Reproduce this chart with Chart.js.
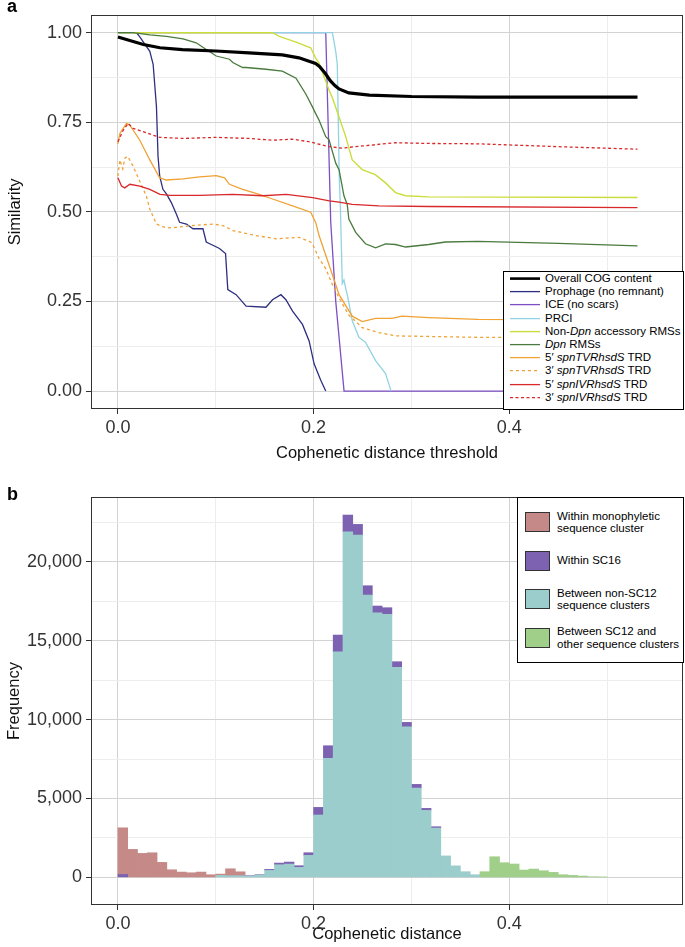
<!DOCTYPE html>
<html><head><meta charset="utf-8">
<script src="https://cdn.jsdelivr.net/npm/chart.js@4/dist/chart.umd.min.js"></script>
<style>
body{margin:0;background:#fff;width:685px;height:947px;position:relative;overflow:hidden;font-family:"Liberation Sans",Arial,sans-serif;color:#000;}
canvas{position:absolute;left:0;}
#ca{top:0;}
#cb{top:470px;}
.plabel{position:absolute;font-weight:bold;font-size:18px;line-height:18px;}
.legend{position:absolute;border:1px solid #000;background:#fff;box-sizing:border-box;}
.la-row{position:absolute;left:0;height:13.2px;font-size:11.5px;line-height:13.2px;white-space:nowrap;}
.la-row svg{position:absolute;left:6px;top:0;}
.la-row span{position:absolute;left:41px;top:0;}
.lb-sw{position:absolute;left:7px;width:25px;height:20px;box-sizing:border-box;border:1px solid #333;}
.lb-tx{position:absolute;left:39px;font-size:11.5px;line-height:12.2px;white-space:nowrap;}
</style></head>
<body>
<canvas id="ca" width="685" height="470"></canvas>
<canvas id="cb" width="685" height="477"></canvas>
<div class="plabel" style="left:7px;top:-3px;">a</div>
<div class="plabel" style="left:7px;top:485px;">b</div>
<div class="legend" id="legA" style="left:503px;top:271px;width:181px;height:139px;"></div>
<div class="legend" id="legB" style="left:517px;top:497px;width:167px;height:166px;"></div>
<script>
// ---------- Panel a data ----------
const cogX = [0, 0.026, 0.043, 0.066, 0.1, 0.134, 0.168, 0.185, 0.202, 0.206, 0.212, 0.217, 0.222, 0.226, 0.236, 0.257, 0.30, 0.368, 0.531];
const cogY = [0.988, 0.967, 0.958, 0.953, 0.949, 0.944, 0.938, 0.930, 0.914, 0.906, 0.886, 0.866, 0.852, 0.843, 0.832, 0.826, 0.822, 0.820, 0.820];

const prophageX = [0, 0.019, 0.022, 0.0326, 0.036, 0.0394, 0.041, 0.0427, 0.046, 0.0496, 0.0546, 0.0597, 0.063, 0.070, 0.0767, 0.0869, 0.0903, 0.097, 0.1038, 0.110, 0.1123, 0.1208, 0.131, 0.1513, 0.158, 0.1666, 0.1717, 0.1785, 0.1886, 0.1954, 0.2005, 0.2073, 0.2124];
const prophageY = [1, 1, 0.99, 0.948, 0.912, 0.793, 0.655, 0.600, 0.563, 0.550, 0.526, 0.494, 0.471, 0.466, 0.453, 0.453, 0.416, 0.407, 0.398, 0.384, 0.283, 0.269, 0.237, 0.234, 0.255, 0.269, 0.255, 0.223, 0.186, 0.140, 0.076, 0.030, 0];

const iceX = [0, 0.2124, 0.2175, 0.2226, 0.2311, 0.531];
const iceY = [1, 1, 0.471, 0.251, 0, 0];

const prciX = [0, 0.2192, 0.2226, 0.2242, 0.2262, 0.2275, 0.2293, 0.2310, 0.2328, 0.2344, 0.2395, 0.2463, 0.2531, 0.2633, 0.2735, 0.2792];
const prciY = [1, 1, 0.948, 0.912, 0.60, 0.50, 0.30, 0.31, 0.287, 0.269, 0.196, 0.150, 0.136, 0.085, 0.049, 0];

const nonDpnX = [0, 0.158, 0.165, 0.182, 0.197, 0.202, 0.2056, 0.216, 0.219, 0.226, 0.2328, 0.2395, 0.2497, 0.263, 0.2735, 0.2837, 0.294, 0.3176, 0.531];
const nonDpnY = [1, 1, 0.99, 0.974, 0.958, 0.930, 0.915, 0.838, 0.820, 0.765, 0.710, 0.645, 0.618, 0.604, 0.581, 0.554, 0.545, 0.542, 0.540];

const dpnX = [0, 0.0156, 0.0326, 0.0496, 0.0665, 0.080, 0.0903, 0.1005, 0.114, 0.1174, 0.1275, 0.131, 0.1513, 0.168, 0.182, 0.192, 0.1988, 0.202, 0.2056, 0.2124, 0.2158, 0.2226, 0.226, 0.231, 0.2344, 0.236, 0.243, 0.253, 0.2633, 0.2735, 0.2837, 0.294, 0.3176, 0.3346, 0.368, 0.45, 0.531];
const dpnY = [1, 1, 0.994, 0.99, 0.983, 0.972, 0.953, 0.935, 0.926, 0.917, 0.903, 0.903, 0.898, 0.893, 0.873, 0.829, 0.793, 0.775, 0.756, 0.710, 0.701, 0.636, 0.618, 0.545, 0.52, 0.480, 0.443, 0.411, 0.400, 0.411, 0.409, 0.402, 0.409, 0.416, 0.418, 0.412, 0.405];

const tvr5X = [0, 0.002, 0.0088, 0.0122, 0.0224, 0.0326, 0.0427, 0.0496, 0.0665, 0.0835, 0.1005, 0.109, 0.114, 0.1275, 0.1445, 0.158, 0.1785, 0.197, 0.2022, 0.2056, 0.2124, 0.2158, 0.2226, 0.226, 0.2395, 0.2497, 0.2633, 0.2802, 0.2904, 0.3176, 0.368, 0.531];
const tvr5Y = [0.69, 0.719, 0.747, 0.742, 0.70, 0.645, 0.595, 0.589, 0.592, 0.598, 0.601, 0.595, 0.577, 0.563, 0.549, 0.536, 0.517, 0.499, 0.470, 0.434, 0.379, 0.352, 0.297, 0.269, 0.209, 0.194, 0.203, 0.203, 0.209, 0.205, 0.200, 0.198];

const tvr3X = [0, 0.002, 0.005, 0.0071, 0.010, 0.0156, 0.0224, 0.029, 0.0326, 0.0394, 0.0496, 0.0597, 0.0767, 0.097, 0.1072, 0.114, 0.1174, 0.141, 0.1615, 0.185, 0.197, 0.1988, 0.2056, 0.2124, 0.2192, 0.226, 0.236, 0.2497, 0.2667, 0.2837, 0.368, 0.531];
const tvr3Y = [0.60, 0.645, 0.62, 0.65, 0.655, 0.627, 0.585, 0.545, 0.508, 0.466, 0.455, 0.457, 0.462, 0.466, 0.462, 0.453, 0.448, 0.434, 0.425, 0.429, 0.416, 0.411, 0.370, 0.342, 0.297, 0.260, 0.212, 0.177, 0.163, 0.154, 0.150, 0.149];

const ivr5X = [0, 0.0037, 0.007, 0.0122, 0.0224, 0.0326, 0.043, 0.053, 0.0835, 0.117, 0.148, 0.172, 0.199, 0.216, 0.226, 0.2395, 0.2667, 0.3176, 0.531];
const ivr5Y = [0.595, 0.572, 0.567, 0.577, 0.572, 0.563, 0.549, 0.546, 0.546, 0.549, 0.545, 0.549, 0.540, 0.531, 0.527, 0.521, 0.517, 0.515, 0.512];

const ivr3X = [0, 0.0054, 0.0105, 0.0156, 0.0258, 0.036, 0.0427, 0.0665, 0.1005, 0.134, 0.158, 0.178, 0.195, 0.216, 0.229, 0.2497, 0.2837, 0.3176, 0.368, 0.45, 0.531];
const ivr3Y = [0.696, 0.728, 0.747, 0.733, 0.724, 0.714, 0.708, 0.705, 0.708, 0.705, 0.700, 0.703, 0.696, 0.682, 0.678, 0.684, 0.693, 0.691, 0.690, 0.682, 0.675];

const seriesNames = ['Overall COG content', 'Prophage (no remnant)', 'ICE (no scars)', 'PRCI', 'Non-Dpn accessory RMSs', 'Dpn RMSs', '5\u2032 spnTVRhsdS TRD', '3\u2032 spnTVRhsdS TRD', '5\u2032 spnIVRhsdS TRD', '3\u2032 spnIVRhsdS TRD'];
const italicWords = ['Dpn', 'spnTVRhsdS', 'spnIVRhsdS'];

// tick positions (major ticks get labels, the rest are minor grid lines)
const distTicks = [0, 0.1, 0.2, 0.3, 0.4, 0.5];
const distLabelTicks = [0, 0.2, 0.4];
const simTicks = [0, 0.125, 0.25, 0.375, 0.5, 0.625, 0.75, 0.875, 1];
const simLabelTicks = [0, 0.25, 0.5, 0.75, 1];
const freqTicks = [0, 2500, 5000, 7500, 10000, 12500, 15000, 17500, 20000, 22500];
const freqLabelTicks = [0, 5000, 10000, 15000, 20000];

// ---------- Panel b data ----------
const binStart = [0.00,0.01,0.02,0.03,0.04,0.05,0.06,0.07,0.08,0.09,0.10,0.11,0.12,0.13,0.14,0.15,0.16,0.17,0.18,0.19,0.20,0.21,0.22,0.23,0.24,0.25,0.26,0.27,0.28,0.29,0.30,0.31,0.32,0.33,0.34,0.35,0.36,0.37,0.38,0.39,0.40,0.41,0.42,0.43,0.44,0.45,0.46,0.47,0.48,0.49];
const binWidth = 0.01;
const withinMono = [2950,1774,1520,1560,950,483,336,293,336,167, 80,440,250,0,0,0,0,0,0,0, 0,0,0,0,0,0,0,0,0,0, 0,0,0,0,0,0,0,0,0,0, 0,0,0,0,0,0,0,0,0,0];
const withinSC16 = [190,0,0,0,0,0,0,0,0,0, 0,0,0,25,20,64,106,127,105,169, 485,802,1056,1056,676,591,423,422,359,275, 232,127,84,0,0,0,0,0,0,0, 0,0,0,0,0,0,0,0,0,0];
const betweenNonSC12 = [0,0,0,0,0,0,0,0,0,0, 127,105,105,80,150,443,800,843,634,1394, 3950,7540,14298,21901,21690,17889,16769,16664,13306,9546, 5660,4245,3126,1360,730,360,169,0,0,0, 0,0,0,0,0,0,0,0,0,0];
const betweenSC12 = [0,0,0,0,0,0,0,0,0,0, 0,0,0,0,0,0,0,0,0,0, 0,0,0,0,0,0,0,0,0,0, 0,0,0,0,0,0,0,359,1309,929, 845,465,528,422,317,169,127,84,42,20];
const histNames = ['Within monophyletic\nsequence cluster', 'Within SC16', 'Between non-SC12\nsequence clusters', 'Between SC12 and\nother sequence clusters'];

// ---------- styles ----------
const FONT = '"Liberation Sans", Arial, sans-serif';
const lineStyles = [
  {color:'#000000', width:3.2, dash:[]},
  {color:'#2e2f80', width:1.3, dash:[]},
  {color:'#7c4fc4', width:1.3, dash:[]},
  {color:'#92d2e2', width:1.3, dash:[]},
  {color:'#cbdd3c', width:1.4, dash:[]},
  {color:'#4a7a3e', width:1.3, dash:[]},
  {color:'#f0a235', width:1.3, dash:[]},
  {color:'#f0a235', width:1.3, dash:[3,3]},
  {color:'#d8282a', width:1.3, dash:[]},
  {color:'#d8282a', width:1.3, dash:[3,2.5]}
];
const lineData = [[cogX,cogY],[prophageX,prophageY],[iceX,iceY],[prciX,prciY],[nonDpnX,nonDpnY],[dpnX,dpnY],[tvr5X,tvr5Y],[tvr3X,tvr3Y],[ivr5X,ivr5Y],[ivr3X,ivr3Y]];
const histData = [withinMono, withinSC16, betweenNonSC12, betweenSC12];
const histColors = ['#c58a87', '#7d62b2', '#9acdcc', '#a0cf8a'];
const stackOrder = [2, 1, 0, 3]; // bottom -> top

const MAJOR = '#d3d3d3', MINOR = '#ededed', TICK = '#333';
const isIn = (v, arr) => arr.some(a => Math.abs(a - v) < 1e-9);

const framePlugin = {
  id:'frame',
  afterDraw(chart){
    const {ctx, chartArea:a} = chart;
    ctx.save();
    ctx.strokeStyle = '#333'; ctx.lineWidth = 1;
    ctx.strokeRect(Math.round(a.left)+0.5, Math.round(a.top)+0.5, Math.round(a.right-a.left)-1, Math.round(a.bottom-a.top)-1);
    ctx.restore();
  }
};

function makeAxis(o){
  return {
    type:'linear', min:o.min, max:o.max, offset:false, stacked:!!o.stacked,
    afterBuildTicks(s){ s.ticks = o.ticks.map(v => ({value:v})); },
    afterFit(s){ if (o.height) s.height = o.height; if (o.width) s.width = o.width; },
    ticks:{autoSkip:false, maxRotation:0, minRotation:0, padding:o.pad, color:TICK,
      font:{family:FONT, size:18},
      callback:(v)=> isIn(v, o.labels) ? o.fmt(v) : ''},
    grid:{offset:false, color:(c)=> (c.tick && isIn(c.tick.value, o.labels)) ? MAJOR : MINOR,
      tickColor:(c)=> (c.tick && isIn(c.tick.value, o.labels)) ? TICK : 'rgba(0,0,0,0)',
      tickLength:5, lineWidth:1},
    border:{display:false},
    title:{display:true, text:o.title, color:'#111', font:{family:FONT, size:16.5}, padding:o.tpad}
  };
}
const fmtComma = (v) => String(v).replace(/\B(?=(\d{3})+(?!\d))/g, ',');

// ---------- Chart a ----------
new Chart(document.getElementById('ca'), {
  type:'line',
  data:{datasets: lineData.map((d, i) => ({
    label: seriesNames[i],
    data: d[0].map((x, k) => ({x, y: d[1][k]})),
    borderColor: lineStyles[i].color, borderWidth: lineStyles[i].width, borderDash: lineStyles[i].dash,
    pointRadius:0, tension:0, fill:false, order: i === 0 ? 0 : 20 - i
  }))},
  options:{
    responsive:false, animation:false, events:[],
    layout:{padding:{top:10, right:2, left:0, bottom:0}},
    plugins:{legend:{display:false}, tooltip:{enabled:false}},
    scales:{
      x: makeAxis({min:-0.0275, max:0.5775, ticks:distTicks, labels:distLabelTicks, fmt:(v)=>v.toFixed(1), height:61, pad:3,
        title:'Cophenetic distance threshold', tpad:{top:0, bottom:7}}),
      y: makeAxis({min:-0.05, max:1.05, ticks:simTicks, labels:simLabelTicks, fmt:(v)=>v.toFixed(2), width:91, pad:4,
        title:'Similarity', tpad:{top:6, bottom:0}})
    }
  },
  plugins:[framePlugin]
});

// ---------- Chart b ----------
new Chart(document.getElementById('cb'), {
  type:'bar',
  data:{datasets: stackOrder.map((j) => ({
    label: histNames[j].replace('\n', ' '),
    data: binStart.map((b, i) => ({x: b + binWidth / 2, y: histData[j][i] > 0 ? histData[j][i] : null})),
    backgroundColor: histColors[j], borderWidth:0, barPercentage:1, categoryPercentage:1
  }))},
  options:{
    responsive:false, animation:false, events:[],
    layout:{padding:{top:27, right:2, left:0, bottom:0}},
    plugins:{legend:{display:false}, tooltip:{enabled:false}},
    scales:{
      x: makeAxis({min:-0.0275, max:0.5775, stacked:true, ticks:distTicks, labels:distLabelTicks, fmt:(v)=>v.toFixed(1), height:42, pad:3,
        title:'Cophenetic distance', tpad:{top:0, bottom:3}}),
      y: makeAxis({min:-1750, max:24100, stacked:true, ticks:freqTicks, labels:freqLabelTicks, fmt:fmtComma, width:91, pad:4,
        title:'Frequency', tpad:{top:5, bottom:0}})
    }
  },
  plugins:[framePlugin]
});

// ---------- Legends ----------
function italicize(s){
  let out = s;
  italicWords.forEach(w => { out = out.replace(new RegExp('(^|[^A-Za-z])(' + w + ')(?![A-Za-z])'), '$1<i>$2</i>'); });
  return out;
}
const legA = document.getElementById('legA');
seriesNames.forEach((name, i) => {
  const st = lineStyles[i];
  const row = document.createElement('div');
  row.className = 'la-row';
  row.style.top = (i * 13.2) + 'px';
  row.style.width = '179px';
  row.innerHTML = '<svg width="30" height="13" viewBox="0 0 30 13"><line x1="0" y1="6.6" x2="30" y2="6.6" stroke="' + st.color +
    '" stroke-width="' + Math.min(st.width, 2.6) + '"' + (st.dash.length ? ' stroke-dasharray="' + st.dash.join(',') + '"' : '') + '/></svg><span>' + italicize(name) + '</span>';
  legA.appendChild(row);
});
const legB = document.getElementById('legB');
histNames.forEach((name, j) => {
  const top = 14 + j * 38.5;
  const sw = document.createElement('div');
  sw.className = 'lb-sw'; sw.style.top = top + 'px'; sw.style.background = histColors[j];
  legB.appendChild(sw);
  const lines = name.split('\n');
  const tx = document.createElement('div');
  tx.className = 'lb-tx';
  tx.style.top = (top + 10 - lines.length * 6.1) + 'px';
  tx.innerHTML = lines.join('<br>');
  legB.appendChild(tx);
});
</script>
</body></html>
